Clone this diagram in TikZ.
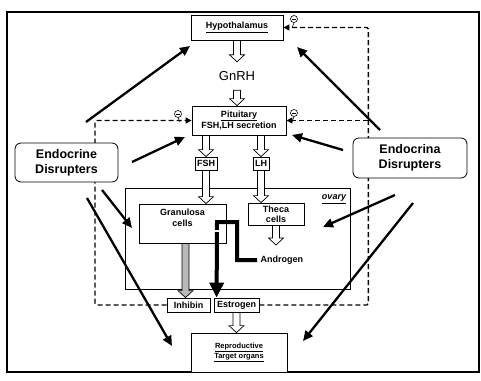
\documentclass[tikz,border=0pt]{standalone}
\usepackage{fontspec}
\setmainfont{Liberation Sans}
\usetikzlibrary{arrows.meta,calc}
\newcommand\hollowdown[3][white]{%
  \path[hollow,fill=#1] let \p1=#2, \p2=#3 in
    (\x1-3.5pt,\y1) -- (\x1+3.5pt,\y1) -- (\x1+3.5pt,\y2+7pt) -- (\x1+7.5pt,\y2+7pt)
    -- (\x1,\y2) -- (\x1-7.5pt,\y2+7pt) -- (\x1-3.5pt,\y2+7pt) -- cycle;}
\begin{document}
\begin{tikzpicture}[x=1pt,y=-1pt,
  box/.style={draw, line width=0.8pt, fill=white, inner sep=1pt, align=center,
    font=\bfseries\fontsize{9}{11.5}\selectfont},
  lbl/.style={font=\bfseries\fontsize{9}{11}\selectfont, align=center},
  edbox/.style={draw, line width=0.8pt, fill=white, rounded corners=6pt, align=center,
    font=\bfseries\fontsize{12.5}{15}\selectfont},
  solidarr/.style={line width=2.3pt, -{Triangle[length=10pt,width=9pt]}},
  fb/.style={dash pattern=on 5pt off 3pt, line width=1.4pt, rounded corners=1.5pt,
    -{Triangle[length=6pt,width=6pt]}},
  hollow/.style={draw, line width=0.7pt, line join=miter},
  blackarr/.style={line width=4pt, line join=miter, -{Triangle[length=15pt,width=14pt]}},
  minus/.style={circle, draw, fill=white, line width=0.6pt, minimum size=7pt, inner sep=0pt,
    path picture={\draw[line width=0.7pt] ([xshift=-2pt]path picture bounding box.center)
      -- ([xshift=2pt]path picture bounding box.center);}},
]
\useasboundingbox (0,0) rectangle (481,380);
% frame
\draw[line width=1.5pt] (7,12) rectangle (479,372);

% main boxes of the axis (placed first, redrawn later on top)
\path
  (237,27.5) node[box, minimum width=92pt, minimum height=25pt] (hyp) {\underline{Hypothalamus}}
  (239,120.5) node[box, minimum width=94pt, minimum height=29pt] (pit) {\underline{Pituitary}\\FSH,LH secretion}
  (188.5,305) node[box, minimum width=43pt, minimum height=14pt] (inh) {Inhibin}
  (236.5,305) node[box, minimum width=45pt, minimum height=14pt] (est) {Estrogen};

% feedback dashed lines
\coordinate (rcorner) at (368,120.5);
\coordinate (lcorner) at (95,120.5);
\draw[fb] (est.east) -| ($(hyp.east)+(85,0)$) -- (hyp.east);
\draw[fb] (rcorner) -- (pit.east);
\draw[fb] (inh.west) -| (lcorner) -- (pit.west);

% boxes
\node[draw, line width=0.8pt, fill=white, minimum width=225pt, minimum height=101pt, inner sep=0pt]
  (ovary) at (237.5,238.5) {};
\node[lbl, font=\bfseries\itshape\fontsize{9}{11}\selectfont] (ovlbl) at (334,199) {\underline{ovary}};
\node[box, minimum width=87pt, minimum height=39pt] (gran) at (182.5,223.5) {};
\node[lbl, anchor=north] (grant) at ([yshift=-2pt]gran.north) {Granulosa\\cells};
\node[box, minimum width=56pt, minimum height=22pt, font=\bfseries\fontsize{9}{10}\selectfont] (theca) at (276,214) {Theca\\cells};
\node[box, minimum width=22pt, minimum height=13pt] (fsh) at (206,163.5) {FSH};
\node[box, minimum width=16pt, minimum height=13pt] (lh) at (261,163.5) {LH};
\node[box, minimum width=96pt, minimum height=39pt, font=\bfseries\fontsize{7.5}{10}\selectfont]
  (rep) at (239,352.5) {\underline{Reproductive}\\\underline{Target organs}};
\node[inner sep=0pt, minimum height=28pt, font=\fontsize{13}{15}\selectfont] (gnrh) at (237,76) {GnRH};
\node[lbl, anchor=west] (andro) at (257,260) {Androgen};
\node[edbox, minimum width=103pt, minimum height=39pt] (edl) at (66.5,162.5) {Endocrine\\Disrupters};
\node[edbox, minimum width=114pt, minimum height=40pt] (edr) at (410,158) {Endocrina\\Disrupters};
% redraw hyp, pit on top of the dashed lines
\node[box, minimum width=92pt, minimum height=25pt] at (hyp) {\underline{Hypothalamus}};
\node[box, minimum width=94pt, minimum height=29pt] at (pit) {\underline{Pituitary}\\FSH,LH secretion};

% minus signs
\node[minus] (m1) at (294,19) {};
\node[minus] (m2) at (294,113) {};
\node[minus] (m3) at (178,114) {};
\draw[line width=0.6pt] (m1.south) -- ++(-2,5);
\draw[line width=0.6pt] (m2.south) -- ++(-2,5);
\draw[line width=0.6pt] (m3.south) -- ++(2,4);

% hollow arrows
\hollowdown{(hyp.south)}{(gnrh.north)}
\hollowdown{(gnrh.south)}{(gnrh.south |- pit.north)}
\hollowdown{(fsh.north |- pit.south)}{(fsh.north)}
\hollowdown{(lh.north |- pit.south)}{(lh.north)}
\hollowdown{(fsh.south)}{(fsh.south |- gran.north)}
\hollowdown{(lh.south)}{(lh.south |- theca.north)}
\coordinate (thecaout) at (276,245);
\hollowdown{(theca.south)}{(thecaout)}
\hollowdown{(est.south)}{(est.south |- rep.north)}
\hollowdown[gray!55]{($(inh.north |- gran.south)+(-3,0)$)}{($(inh.north)+(-3,0)$)}

% androgen -> estrogen
\draw[blackarr] (andro.west) -- ++(-20,0) -- ++(0,-38) -- ++(-20,0) -- ($(est.north west)+(3,0)$);
\draw[white, line width=1.8pt] ($(est.north west)+(0,-67)$) -- ++(6,0);

% endocrine disrupter arrows
\coordinate (l1s) at (86,122);   \coordinate (l1e) at (190,46);
\coordinate (l2s) at (132,162);  \coordinate (l2e) at (185,137);
\coordinate (l3s) at (102,190);  \coordinate (l3e) at (132,228);
\coordinate (l4s) at (87,198);   \coordinate (l4e) at (172,346);
\coordinate (r1s) at (380,130);  \coordinate (r1e) at (297,47);
\coordinate (r2s) at (343,150);  \coordinate (r2e) at (292,135);
\coordinate (r3s) at (395,195);  \coordinate (r3e) at (323,227);
\coordinate (r4s) at (413,203);  \coordinate (r4e) at (303,341);
\foreach \a in {l1,l2,l3,l4,r1,r2,r3,r4}
  \draw[solidarr] (\a s) -- (\a e);
\end{tikzpicture}
\end{document}
